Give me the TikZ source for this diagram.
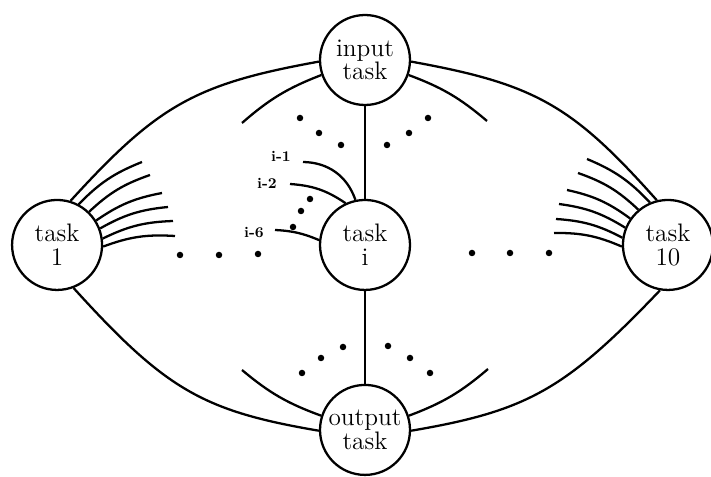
\documentclass[tikz,border=0pt]{standalone}
\usepackage{tikz}

\begin{document}
\begin{tikzpicture}[x=0.02cm, y=0.02cm, node distance=3.7cm,
    task/.style={draw, circle, line width=1.3pt, minimum size=1.8cm, inner sep=0pt, align=center, font=\fontsize{14.4}{13.5}\selectfont},
    wire/.style={line width=1.3pt},
    lab/.style={inner sep=0pt, font=\fontsize{8.5}{9}\selectfont\bfseries}]
    \useasboundingbox (0,0) rectangle (711,477);

    \node[task] (input) at (365,417) {input\\task};
    \node[task, below of=input] (taski) {task\\i};
    \node[task, below of=taski] (output) {output\\task};
    \node[task, left of=taski, node distance=6.16cm] (task1) {task\\1};
    \node[task, right of=taski, node distance=6.06cm] (task10) {task\\10};

    \draw[wire] (input.182) .. controls (195,393) and (158,372) .. (task1.73);
    \draw[wire] (input.358) .. controls (535,393) and (572,372) .. (task10.104);
    \draw[wire] (task1.291) .. controls (166,87) and (203,66) .. (output.181);
    \draw[wire] (task10.260) .. controls (565,87) and (527,66) .. (output.359);

    \coordinate (inL) at (242,354);
    \coordinate (inR) at (487,356);
    \coordinate (outL) at (242,107);
    \coordinate (outR) at (488,108);
    \draw[wire] (input.199) to[bend right=10] (inL);
    \draw[wire] (input.341) to[bend left=10] (inR);
    \draw[wire] (output.162) to[bend left=10] (outL);
    \draw[wire] (output.18) to[bend right=10] (outR);

    \draw[wire] (input) -- (taski);
    \draw[wire] (taski) -- (output);

    \foreach \a/\x/\y [count=\k] in {62/142/315, 46/150/302, 32/162/284, 21/168/270, 8/173/256, 358/175/241} {
        \coordinate (fanA\k) at (\x,\y);
        \draw[wire] (task1.\a) to[bend left=12] (fanA\k);
    }
    \foreach \a/\x/\y [count=\k] in {113/587/318, 130/578/304, 145/567/287, 158/559/273, 171/556/258, 182/554/244} {
        \coordinate (fanB\k) at (\x,\y);
        \draw[wire] (task10.\a) to[bend right=12] (fanB\k);
    }

    \node[lab] (lab1) at (281,321) {i-1};
    \node[lab] (lab2) at (267,294) {i-2};
    \node[lab] (lab6) at (254,245) {i-6};
    \coordinate (c1) at (303,315);
    \coordinate (c2) at (290,293);
    \coordinate (c6) at (275,247);
    \draw[wire] (c1) to[bend left=35] (taski.102);
    \draw[wire] (c2) to[bend left=15] (taski.115);
    \draw[wire] (c6) to[bend left=10] (taski.174);

    \foreach \p in {(300,359), (319,344), (341,332), (428,359), (409,344), (387,332),
                    (302,104), (321,119), (343,130), (388,131), (410,119), (430,104),
                    (180,222), (219,222), (258,223), (472,224), (510,224), (549,224),
                    (310,278), (301,266), (293,250)}
        \fill \p circle[radius=0.065cm];
\end{tikzpicture}
\end{document}
